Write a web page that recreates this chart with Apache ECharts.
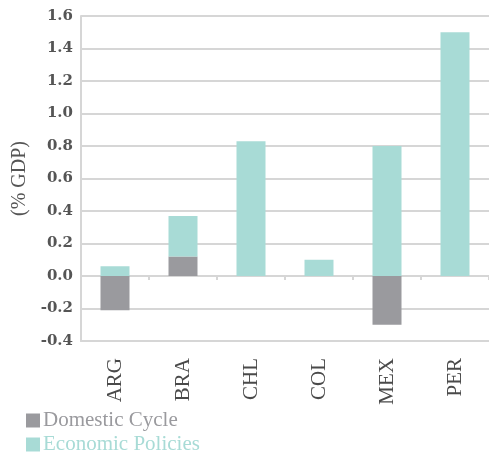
<!DOCTYPE html>
<html>
<head>
<meta charset="utf-8">
<script src="https://cdn.jsdelivr.net/npm/echarts@6/dist/echarts.min.js"></script>
<style>
  html, body { margin: 0; padding: 0; background: #fff; }
  #chart { width: 489px; height: 452px; }
</style>
</head>
<body>
<div id="chart"></div>
<script>
const countries = ['ARG', 'BRA', 'CHL', 'COL', 'MEX', 'PER']
const domesticCycle = [-0.21, 0.12, 0, 0, -0.30, 0]
const economicPolicies = [0.06, 0.25, 0.83, 0.10, 0.80, 1.50]
const yTicks = { min: -0.4, max: 1.6, interval: 0.2 }

const FONT = 'Liberation Serif'
const GREY = '#9a9a9e'
const TEAL = '#a8dbd6'
const LINE = '#d6d6d6'

const chart = echarts.init(document.getElementById('chart'), null, { renderer: 'canvas' })

// one legend per entry so they stack vertically without wrapping
function legendItem(name, color, top) {
  return {
    left: 26,
    top,
    padding: 0,
    itemWidth: 14,
    itemHeight: 14,
    itemGap: 4,
    icon: 'rect',
    textStyle: { fontFamily: FONT, fontSize: 21, color, padding: [0, 0, 0, -2] },
    data: [name]
  }
}

chart.setOption({
  animation: false,
  backgroundColor: '#fff',
  textStyle: { fontFamily: FONT },
  grid: { left: 81, top: 16, right: -7, bottom: 111 },
  legend: [
    legendItem('Domestic Cycle', GREY, 410),
    legendItem('Economic Policies', TEAL, 434)
  ],
  xAxis: [
    {
      type: 'category',
      data: countries,
      position: 'bottom',
      axisLine: { onZero: false, lineStyle: { color: LINE, width: 2 } },
      axisTick: { show: false },
      axisLabel: {
        rotate: 90,
        margin: 17,
        fontFamily: FONT,
        fontSize: 21,
        color: '#4a4a4a'
      }
    },
    {
      type: 'category',
      data: countries,
      position: 'bottom',
      axisLine: { onZero: true, lineStyle: { color: LINE, width: 2 } },
      axisTick: { show: true, length: 4, lineStyle: { color: LINE, width: 2 } },
      axisLabel: { show: false }
    }
  ],
  yAxis: {
    type: 'value',
    min: yTicks.min,
    max: yTicks.max,
    interval: yTicks.interval,
    name: '(% GDP)',
    nameLocation: 'middle',
    nameGap: 47,
    nameTextStyle: { fontFamily: FONT, fontSize: 20, color: '#555' },
    axisLine: { show: true, lineStyle: { color: LINE, width: 2 } },
    axisTick: { show: false },
    splitLine: { lineStyle: { color: LINE, width: 2 } },
    axisLabel: {
      margin: 8,
      fontFamily: 'DejaVu Serif',
      fontSize: 15,
      fontWeight: 'bold',
      color: '#555',
      formatter: (v) => v.toFixed(1)
    }
  },
  series: [
    {
      name: 'Domestic Cycle',
      type: 'bar',
      stack: 'total',
      barWidth: 29,
      itemStyle: { color: GREY },
      data: domesticCycle
    },
    {
      name: 'Economic Policies',
      type: 'bar',
      stack: 'total',
      barWidth: 29,
      itemStyle: { color: TEAL },
      data: economicPolicies
    }
  ]
})
</script>
</body>
</html>
